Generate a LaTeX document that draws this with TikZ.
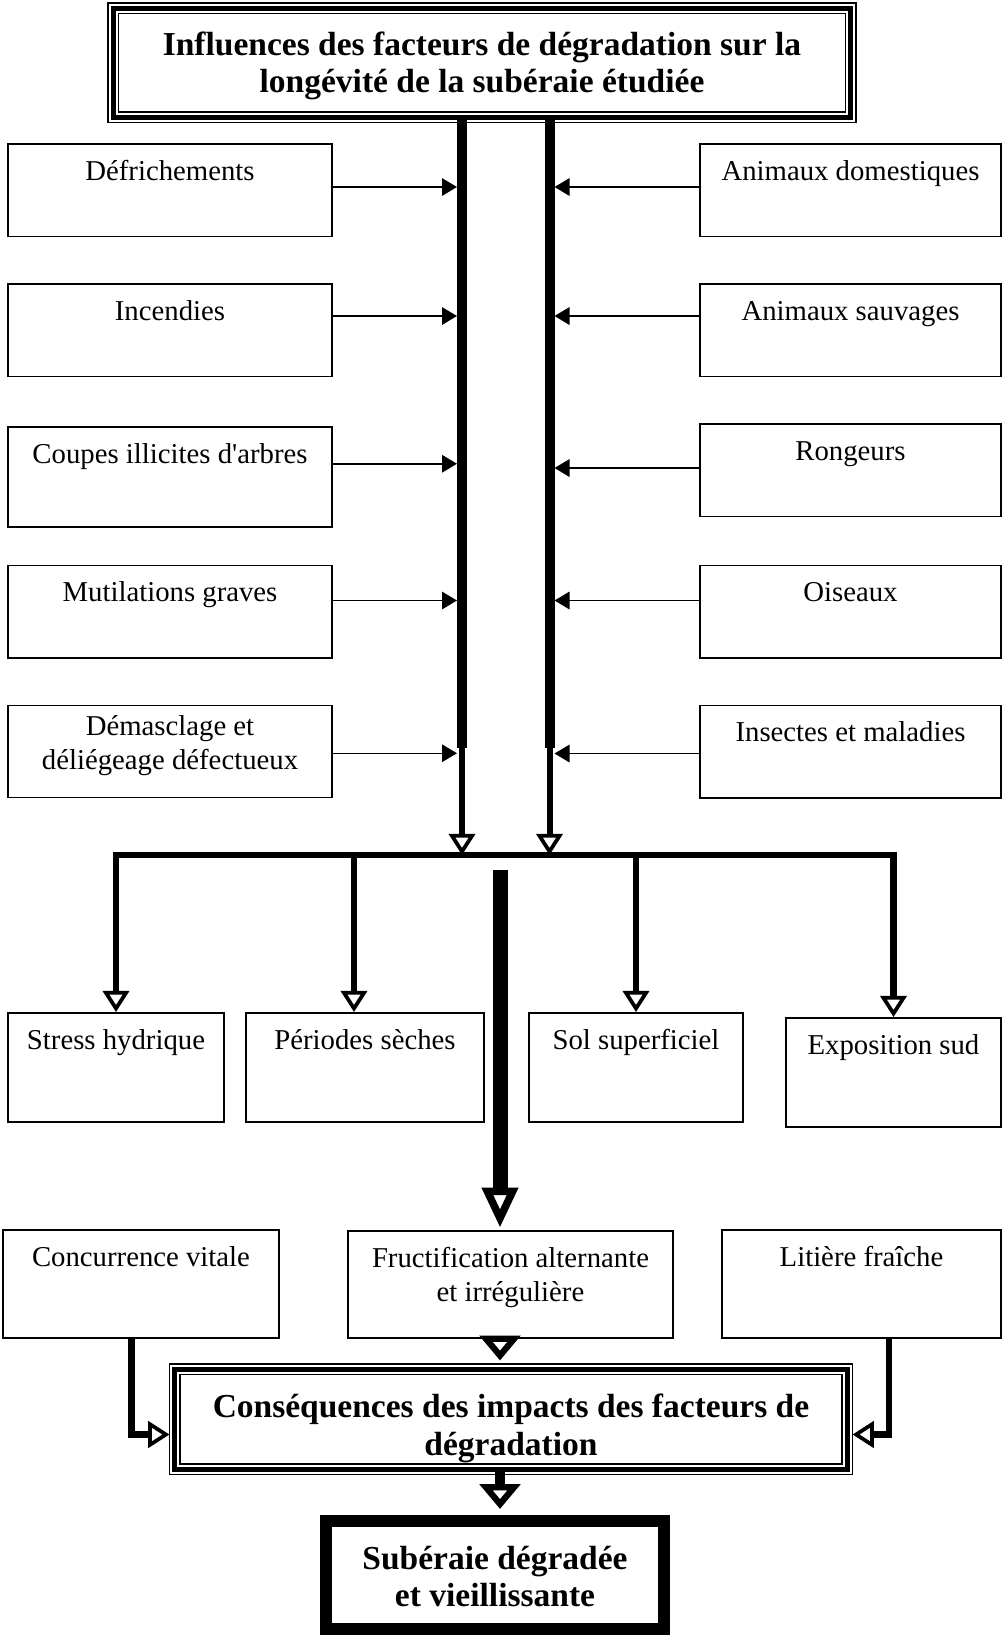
\documentclass[tikz,border=0pt]{standalone}
\usepackage{fontspec}
\setmainfont{Liberation Serif}
\usetikzlibrary{arrows.meta,positioning}

\begin{document}
\begin{tikzpicture}[
  x=0.4pt, y=-0.4pt,
  font=\fontsize{11.5}{13.6}\selectfont,
  cell/.style={draw, line width=0.6pt, align=center, inner sep=0pt,
               minimum width=#1, text height=14.6pt, text depth=22.4pt},
  twoline/.style={text height=28.2pt, text depth=#1},
  frame/.style={draw, line width=2pt, preaction={draw, line width=4.8pt},
                preaction={draw, white, line width=3.6pt}, align=center, inner sep=0pt,
                font=\bfseries\fontsize{13.4}{15}\selectfont},
  heavy/.style={frame, preaction={}, line width=4.8pt},
  bar/.style={line width=4pt},
  link/.style={line width=2.6pt, -{Triangle[open, length=8.5pt, width=10.5pt, line width=1.5pt]}},
  fat/.style={line width=6pt, -{Triangle[open, length=16pt, width=14pt, line width=3pt]}},
  stub/.style={line width=4pt, -{Triangle[open, length=10pt, width=16pt, line width=2.8pt]}},
  feed/.style={line width=0.6pt, shorten >=2pt, -{Triangle[length=6pt, width=7pt]}}
]
\useasboundingbox (0,0) rectangle (1002,1635);

\node[frame, minimum width=295pt, minimum height=43.6pt, text height=27.3pt, text depth=3.2pt] (t) at (482,62.5)
  {Influences des facteurs de dégradation sur la\\longévité de la subéraie étudiée};

\node[cell=129.6pt, anchor=north] (l1) at (170,143) {Défrichements};
\node[cell=129.6pt, below=18.4pt of l1] (l2) {Incendies};
\node[cell=129.6pt, below=19.6pt of l2, text depth=25.4pt] (l3) {Coupes illicites d\textquotesingle arbres};
\node[cell=129.6pt, below=14.8pt of l3] (l4) {Mutilations graves};
\node[cell=129.6pt, twoline=11.1pt, text height=25.7pt, below=18.4pt of l4] (l5) {Démasclage et\\déliégeage défectueux};

\node[cell=120.4pt, anchor=north] (r1) at (850.5,143) {Animaux domestiques};
\node[cell=120.4pt, below=18.4pt of r1] (r2) {Animaux sauvages};
\node[cell=120.4pt, below=18.4pt of r2] (r3) {Rongeurs};
\node[cell=120.4pt, below=19pt of r3] (r4) {Oiseaux};
\node[cell=120.4pt, below=18.4pt of r4] (r5) {Insectes et maladies};

\node[cell=86.4pt, anchor=north, text depth=29pt] (s1) at (116,1012) {Stress hydrique};
\node[cell=95.2pt, anchor=north, text depth=29pt] (s2) at (365,1012) {Périodes sèches};
\node[cell=85.6pt, anchor=north, text depth=29pt] (s3) at (636,1012) {Sol superficiel};
\node[cell=86pt, anchor=north, text depth=29pt] (s4) at (893.5,1017) {Exposition sud};

\node[cell=110.4pt, anchor=north, text depth=28.6pt] (c1) at (141,1229) {Concurrence vitale};
\node[cell=130pt, twoline=14.6pt, anchor=north] (c2) at (510.5,1230) {Fructification alternante\\et irrégulière};
\node[cell=111.6pt, anchor=north, text depth=28.6pt] (c3) at (861.5,1229) {Litière fraîche};

\node[frame, minimum width=268.8pt, minimum height=40pt, text height=31.3pt, text depth=2.4pt] (k) at (511,1419)
  {Conséquences des impacts des facteurs de\\dégradation};
\node[heavy, minimum width=135pt, minimum height=43.2pt, text height=28.3pt, text depth=3pt] (v) at (495,1575)
  {Subéraie dégradée\\et vieillissante};

\coordinate (lk) at (462,748);
\coordinate (rk) at (549.5,748);
\coordinate (lj) at (462,855);
\coordinate (rj) at (549.5,855);
\coordinate (hl) at (116,855);
\coordinate (hr) at (894,855);
\coordinate (bs) at (500,870);
\coordinate (cl) at (131.5,1434.5);
\coordinate (cr) at (889,1434.5);

\draw[bar] (t.south -| lk) -- (lk);
\draw[bar] (t.south -| rk) -- (rk);
\draw[link, line width=2.4pt] (lk) -- (lj);
\draw[link, line width=2.4pt] (rk) -- (rj);

\foreach \n/\dy in {1/-3,2/-14,3/-13,4/-11,5/2}
  \draw[feed] ([shift={(0,\dy)}]l\n.east) coordinate (f) -- (f -| lk);
\foreach \n/\dy in {1/-3,2/-14,3/-2,4/-11,5/2}
  \draw[feed] ([shift={(0,\dy)}]r\n.west) coordinate (f) -- (f -| rk);

\draw[link] (hr) -| (s1.north);
\draw[link] (hl) -| (s4.north);
\path ([shift={(-11,0)}]s2.north) coordinate (s2n);
\draw[link] (s2n |- hl) -- (s2n);
\draw[link] (s3.north |- hl) -- (s3.north);

\draw[fat, shorten >=1pt] (bs) -- (bs |- c2.north);
\draw[stub, shorten >=2.4pt] (bs |- c2.south) -- (bs |- k.north);
\draw[stub, shorten >=2.4pt] (bs |- k.south) -- (bs |- v.north);
\draw[link, shorten >=1.2pt] (c1.south -| cl) -- (cl) -- (cl -| k.west);
\draw[link, shorten >=1.2pt] (c3.south -| cr) -- (cr) -- (cr -| k.east);
\end{tikzpicture}
\end{document}
